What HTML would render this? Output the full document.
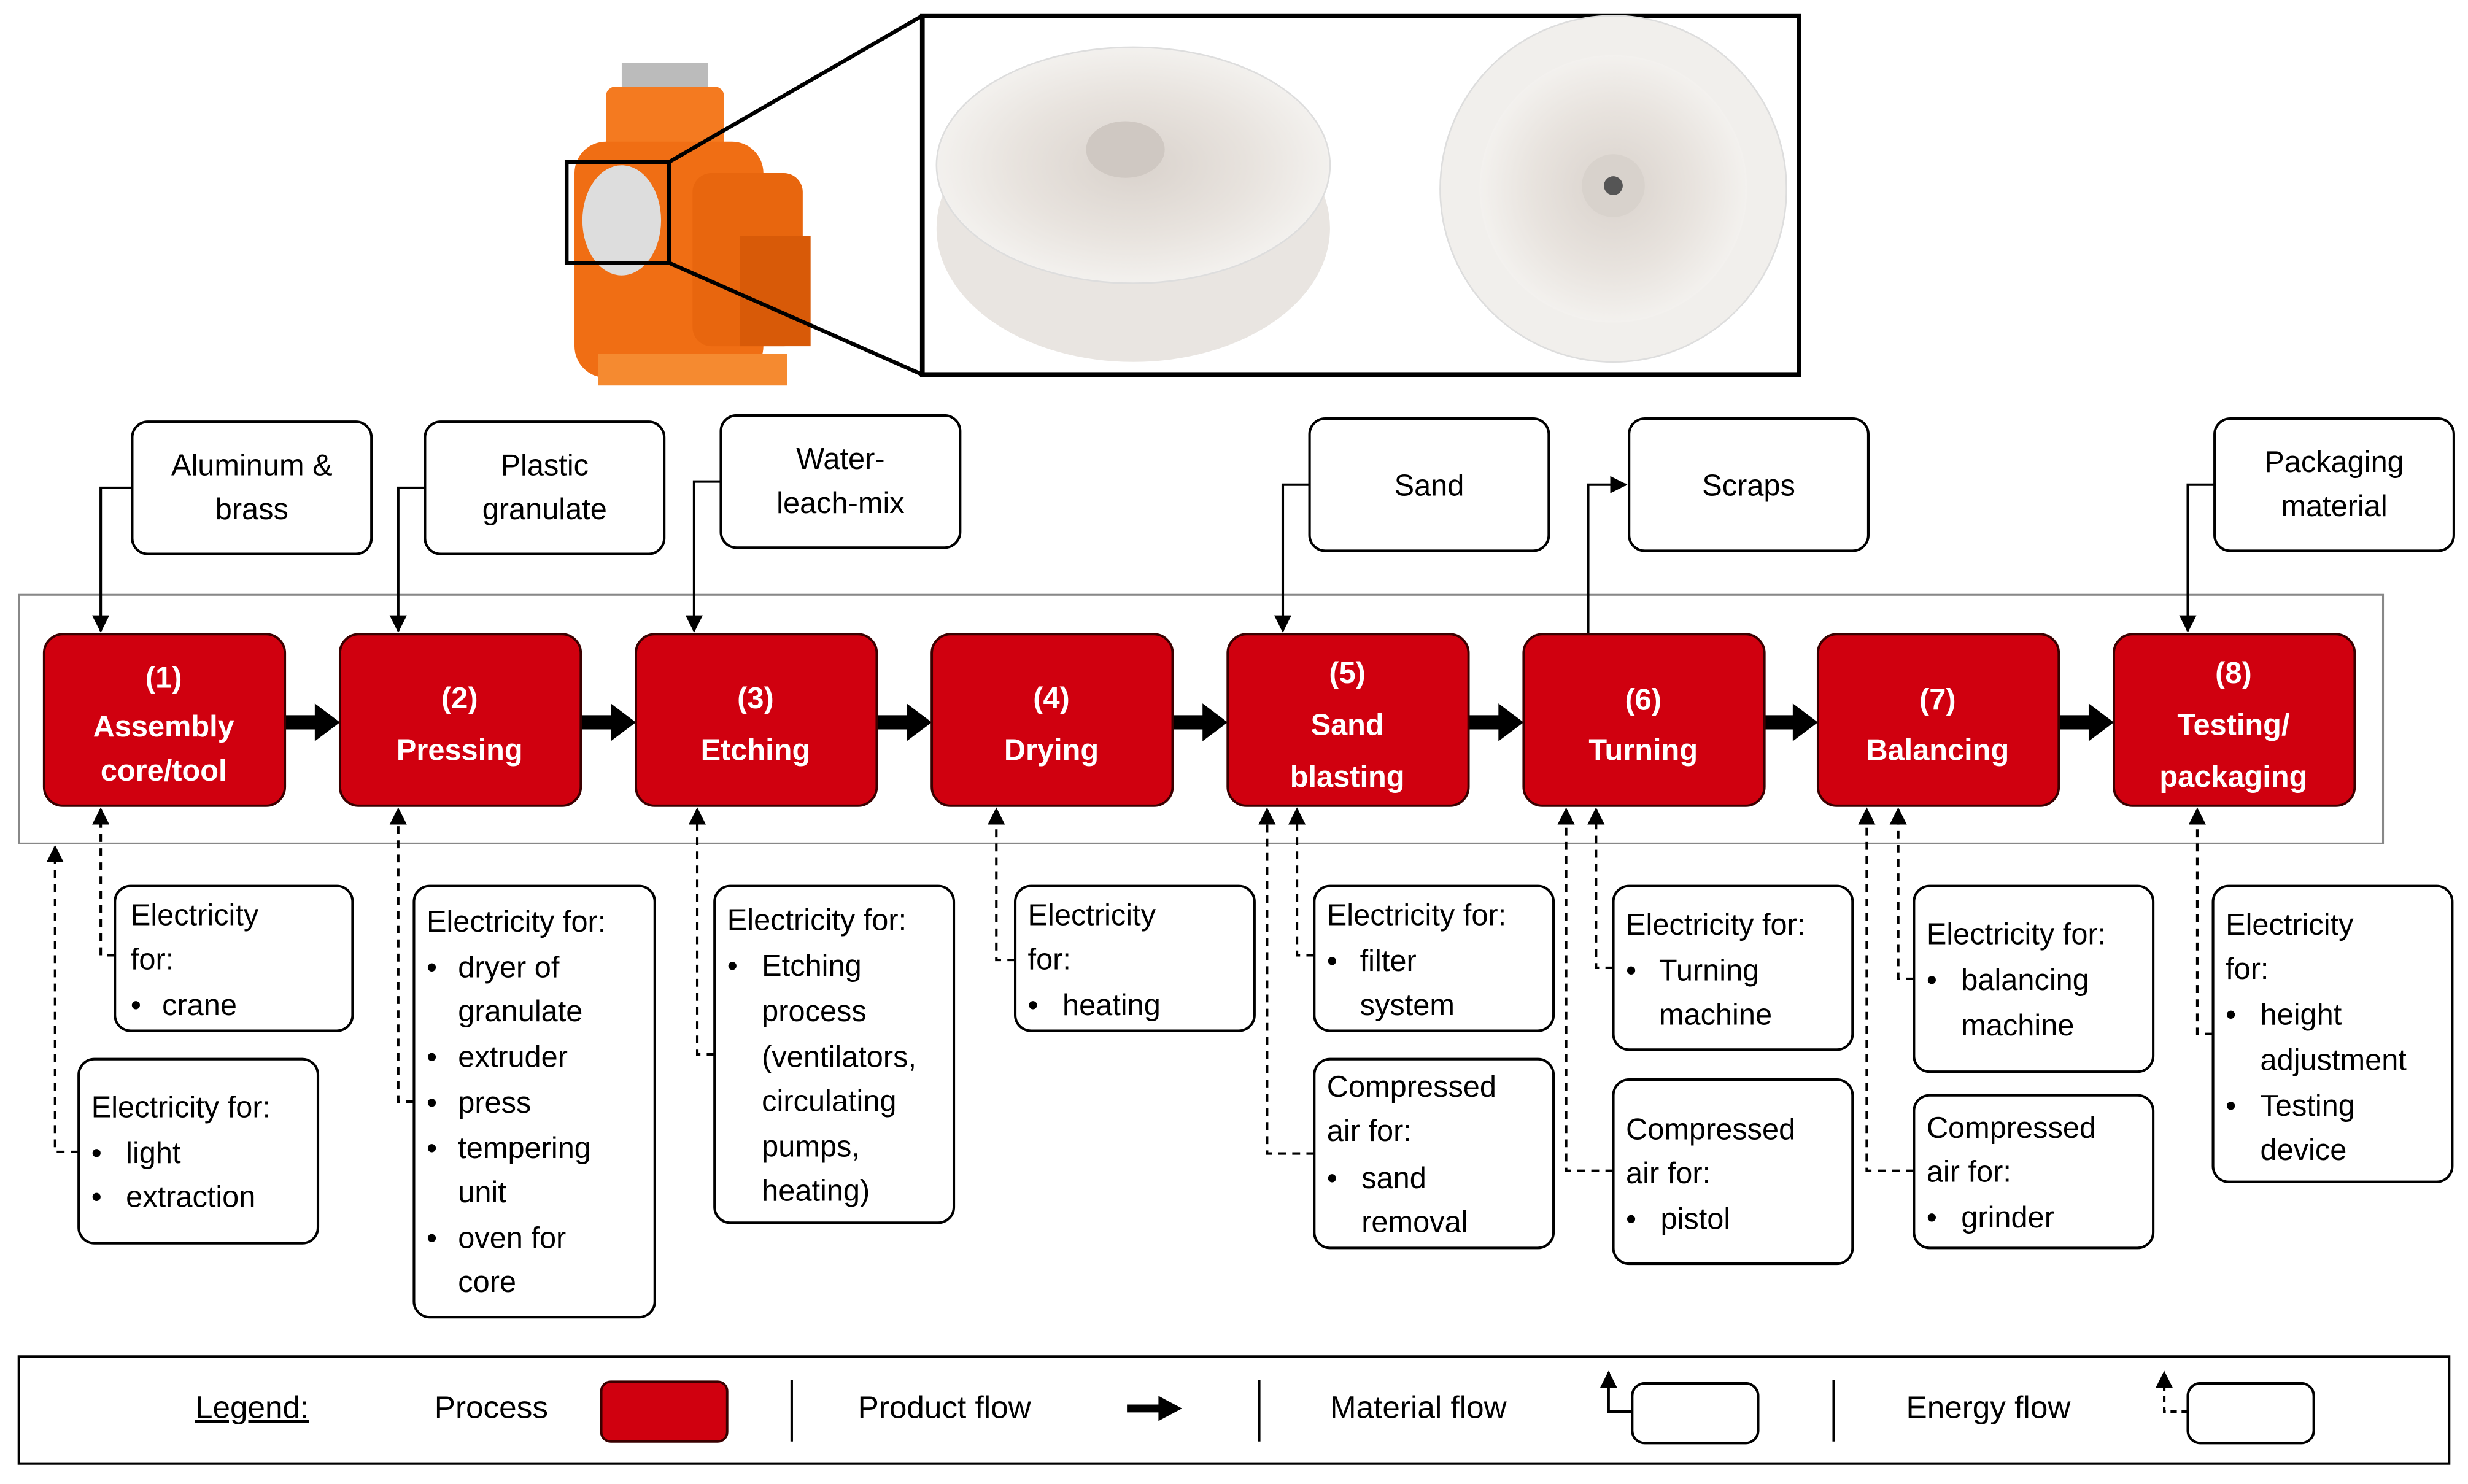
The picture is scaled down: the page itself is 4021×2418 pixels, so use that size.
<!DOCTYPE html>
<html><head><meta charset="utf-8">
<style>
html,body{margin:0;padding:0;background:#fff;}
svg{display:block;}
text{font-family:"Liberation Sans",sans-serif;}
</style></head><body>
<svg width="4021" height="2418" viewBox="0 0 1568 943" preserveAspectRatio="none" xmlns="http://www.w3.org/2000/svg">
<defs>
<marker id="ah" markerWidth="11" markerHeight="11" refX="10" refY="5.5" orient="auto" markerUnits="userSpaceOnUse"><path d="M0,0 L11,5.5 L0,11 z" fill="#000"/></marker>
<radialGradient id="imp" cx="50%" cy="50%" r="50%"><stop offset="0" stop-color="#d9d2cc"/><stop offset="0.6" stop-color="#e8e3de"/><stop offset="1" stop-color="#f3f1ee"/></radialGradient>
</defs>
<rect width="1568" height="943" fill="#fff"/>

<!-- pump -->
<g>
<rect x="395" y="40" width="55" height="18" fill="#bbb"/>
<rect x="385" y="55" width="75" height="40" rx="6" fill="#f47a20"/>
<rect x="365" y="90" width="120" height="150" rx="20" fill="#f06e14"/>
<rect x="440" y="110" width="70" height="110" rx="12" fill="#e8660e"/>
<rect x="470" y="150" width="45" height="70" fill="#d85a08"/>
<ellipse cx="395" cy="140" rx="25" ry="35" fill="#ddd"/>
<rect x="380" y="225" width="120" height="20" fill="#f58a30"/>
<rect x="360" y="103" width="65" height="64" fill="none" stroke="#000" stroke-width="2.5"/>
<line x1="425" y1="103" x2="586" y2="10" stroke="#000" stroke-width="2.5"/>
<line x1="425" y1="167" x2="586" y2="238" stroke="#000" stroke-width="2.5"/>
</g>
<rect x="586" y="10" width="557" height="228" fill="#fff" stroke="#000" stroke-width="3"/>
<ellipse cx="720" cy="145" rx="125" ry="85" fill="#e9e5e1"/>
<ellipse cx="720" cy="105" rx="125" ry="75" fill="url(#imp)" stroke="#ddd"/>
<ellipse cx="715" cy="95" rx="25" ry="18" fill="#cfc8c2"/>
<circle cx="1025" cy="120" r="110" fill="#f1efec" stroke="#ddd"/>
<circle cx="1025" cy="120" r="85" fill="url(#imp)"/>
<circle cx="1025" cy="118" r="20" fill="#d8d2cc"/>
<circle cx="1025" cy="118" r="6" fill="#555"/>

<!-- frame -->
<rect x="12" y="378" width="1502" height="158" fill="none" stroke="#888" stroke-width="1.2"/>

<g fill="none" stroke="#000" stroke-width="1.6">
<polyline points="84,310 64,310 64,401" marker-end="url(#ah)"/>
<polyline points="270,310 253,310 253,401" marker-end="url(#ah)"/>
<polyline points="458,306 441,306 441,401" marker-end="url(#ah)"/>
<polyline points="832,308 815,308 815,401" marker-end="url(#ah)"/>
<polyline points="1009,403 1009,308 1033,308" marker-end="url(#ah)"/>
<polyline points="1407,308 1390,308 1390,401" marker-end="url(#ah)"/>
</g>
<g fill="none" stroke="#000" stroke-width="1.6" stroke-dasharray="5,4">
<polyline points="73,607 64,607 64,514" marker-end="url(#ah)"/>
<polyline points="50,732 35,732 35,538" marker-end="url(#ah)"/>
<polyline points="263,700 253,700 253,514" marker-end="url(#ah)"/>
<polyline points="454,670 443,670 443,514" marker-end="url(#ah)"/>
<polyline points="645,610 633,610 633,514" marker-end="url(#ah)"/>
<polyline points="835,607 824,607 824,514" marker-end="url(#ah)"/>
<polyline points="835,733 805,733 805,514" marker-end="url(#ah)"/>
<polyline points="1025,615 1014,615 1014,514" marker-end="url(#ah)"/>
<polyline points="1025,744 995,744 995,514" marker-end="url(#ah)"/>
<polyline points="1216,622 1206,622 1206,514" marker-end="url(#ah)"/>
<polyline points="1216,744 1186,744 1186,514" marker-end="url(#ah)"/>
<polyline points="1406,657 1396,657 1396,514" marker-end="url(#ah)"/>
</g>

<!-- product arrows -->
<g stroke="#000" stroke-width="9">
<line x1="181" y1="459" x2="203" y2="459"/><line x1="369" y1="459" x2="391" y2="459"/>
<line x1="557" y1="459" x2="579" y2="459"/><line x1="745" y1="459" x2="767" y2="459"/>
<line x1="933" y1="459" x2="955" y2="459"/><line x1="1121" y1="459" x2="1142" y2="459"/>
<line x1="1308" y1="459" x2="1330" y2="459"/>
</g>
<g fill="#000">
<path d="M200,447 L216,459 L200,471z"/><path d="M388,447 L404,459 L388,471z"/>
<path d="M576,447 L592,459 L576,471z"/><path d="M764,447 L780,459 L764,471z"/>
<path d="M952,447 L968,459 L952,471z"/><path d="M1139,447 L1155,459 L1139,471z"/>
<path d="M1327,447 L1343,459 L1327,471z"/>
</g>

<!-- process boxes -->
<g fill="#d0000f" stroke="#3a0000" stroke-width="1.5">
<rect x="28" y="403" width="153" height="109" rx="12"/>
<rect x="216" y="403" width="153" height="109" rx="12"/>
<rect x="404" y="403" width="153" height="109" rx="12"/>
<rect x="592" y="403" width="153" height="109" rx="12"/>
<rect x="780" y="403" width="153" height="109" rx="12"/>
<rect x="968" y="403" width="153" height="109" rx="12"/>
<rect x="1155" y="403" width="153" height="109" rx="12"/>
<rect x="1343" y="403" width="153" height="109" rx="12"/>
</g>
<g fill="#fff" font-weight="bold" font-size="19" text-anchor="middle">
<text x="104" y="437">(1)</text><text x="104" y="468">Assembly</text><text x="104" y="496">core/tool</text>
<text x="292" y="450">(2)</text><text x="292" y="483">Pressing</text>
<text x="480" y="450">(3)</text><text x="480" y="483">Etching</text>
<text x="668" y="450">(4)</text><text x="668" y="483">Drying</text>
<text x="856" y="434">(5)</text><text x="856" y="467">Sand</text><text x="856" y="500">blasting</text>
<text x="1044" y="451">(6)</text><text x="1044" y="483">Turning</text>
<text x="1231" y="451">(7)</text><text x="1231" y="483">Balancing</text>
<text x="1419" y="434">(8)</text><text x="1419" y="467">Testing/</text><text x="1419" y="500">packaging</text>
</g>

<!-- material boxes -->
<g fill="#fff" stroke="#000" stroke-width="1.6">
<rect x="84" y="268" width="152" height="84" rx="10"/>
<rect x="270" y="268" width="152" height="84" rx="10"/>
<rect x="458" y="264" width="152" height="84" rx="10"/>
<rect x="832" y="266" width="152" height="84" rx="10"/>
<rect x="1035" y="266" width="152" height="84" rx="10"/>
<rect x="1407" y="266" width="152" height="84" rx="10"/>
</g>
<g font-size="19" text-anchor="middle" fill="#000">
<text x="160" y="302">Aluminum &amp;</text><text x="160" y="330">brass</text>
<text x="346" y="302">Plastic</text><text x="346" y="330">granulate</text>
<text x="534" y="298">Water-</text><text x="534" y="326">leach-mix</text>
<text x="908" y="315">Sand</text>
<text x="1111" y="315">Scraps</text>
<text x="1483" y="300">Packaging</text><text x="1483" y="328">material</text>
</g>

<!-- energy boxes -->
<g fill="#fff" stroke="#000" stroke-width="1.6">
<rect x="73" y="563" width="151" height="92" rx="10"/>
<rect x="50" y="673" width="152" height="117" rx="10"/>
<rect x="263" y="563" width="153" height="274" rx="10"/>
<rect x="454" y="563" width="152" height="214" rx="10"/>
<rect x="645" y="563" width="152" height="92" rx="10"/>
<rect x="835" y="563" width="152" height="92" rx="10"/>
<rect x="835" y="673" width="152" height="120" rx="10"/>
<rect x="1025" y="563" width="152" height="104" rx="10"/>
<rect x="1025" y="686" width="152" height="117" rx="10"/>
<rect x="1216" y="563" width="152" height="118" rx="10"/>
<rect x="1216" y="696" width="152" height="97" rx="10"/>
<rect x="1406" y="563" width="152" height="188" rx="10"/>
</g>
<g font-size="19" fill="#000">
<text x="83" y="588">Electricity</text><text x="83" y="616">for:</text><text x="83" y="645">•</text><text x="103" y="645">crane</text>
<text x="58" y="710">Electricity for:</text><text x="58" y="739">•</text><text x="80" y="739">light</text><text x="58" y="767">•</text><text x="80" y="767">extraction</text>
<text x="271" y="592">Electricity for:</text>
<text x="271" y="621">•</text><text x="291" y="621">dryer of</text><text x="291" y="649">granulate</text>
<text x="271" y="678">•</text><text x="291" y="678">extruder</text>
<text x="271" y="707">•</text><text x="291" y="707">press</text>
<text x="271" y="736">•</text><text x="291" y="736">tempering</text><text x="291" y="764">unit</text>
<text x="271" y="793">•</text><text x="291" y="793">oven for</text><text x="291" y="821">core</text>
<text x="462" y="591">Electricity for:</text>
<text x="462" y="620">•</text><text x="484" y="620">Etching</text><text x="484" y="649">process</text><text x="484" y="678">(ventilators,</text><text x="484" y="706">circulating</text><text x="484" y="735">pumps,</text><text x="484" y="763">heating)</text>
<text x="653" y="588">Electricity</text><text x="653" y="616">for:</text><text x="653" y="645">•</text><text x="675" y="645">heating</text>
<text x="843" y="588">Electricity for:</text><text x="843" y="617">•</text><text x="864" y="617">filter</text><text x="864" y="645">system</text>
<text x="843" y="697">Compressed</text><text x="843" y="725">air for:</text><text x="843" y="755">•</text><text x="865" y="755">sand</text><text x="865" y="783">removal</text>
<text x="1033" y="594">Electricity for:</text><text x="1033" y="623">•</text><text x="1054" y="623">Turning</text><text x="1054" y="651">machine</text>
<text x="1033" y="724">Compressed</text><text x="1033" y="752">air for:</text><text x="1033" y="781">•</text><text x="1055" y="781">pistol</text>
<text x="1224" y="600">Electricity for:</text><text x="1224" y="629">•</text><text x="1246" y="629">balancing</text><text x="1246" y="658">machine</text>
<text x="1224" y="723">Compressed</text><text x="1224" y="751">air for:</text><text x="1224" y="780">•</text><text x="1246" y="780">grinder</text>
<text x="1414" y="594">Electricity</text><text x="1414" y="622">for:</text>
<text x="1414" y="651">•</text><text x="1436" y="651">height</text><text x="1436" y="680">adjustment</text>
<text x="1414" y="709">•</text><text x="1436" y="709">Testing</text><text x="1436" y="737">device</text>
</g>

<!-- legend -->
<rect x="12" y="862" width="1544" height="68" fill="#fff" stroke="#000" stroke-width="1.6"/>
<g font-size="20" fill="#000">
<text x="124" y="901" text-decoration="underline">Legend:</text>
<text x="276" y="901">Process</text>
<text x="545" y="901">Product flow</text>
<text x="845" y="901">Material flow</text>
<text x="1211" y="901">Energy flow</text>
</g>
<rect x="382" y="878" width="80" height="38" rx="6" fill="#d0000f" stroke="#3a0000" stroke-width="1.5"/>
<g stroke="#000" stroke-width="1.6">
<line x1="503" y1="877" x2="503" y2="916"/><line x1="800" y1="877" x2="800" y2="916"/><line x1="1165" y1="877" x2="1165" y2="916"/>
</g>
<line x1="716" y1="895" x2="738" y2="895" stroke="#000" stroke-width="5"/>
<path d="M736,887 L751,895 L736,903z" fill="#000"/>
<polyline points="1037,897 1022,897 1022,872" fill="none" stroke="#000" stroke-width="1.6" marker-end="url(#ah)"/>
<rect x="1037" y="879" width="80" height="38" rx="8" fill="#fff" stroke="#000" stroke-width="1.6"/>
<polyline points="1390,897 1375,897 1375,872" fill="none" stroke="#000" stroke-width="1.6" stroke-dasharray="4,3" marker-end="url(#ah)"/>
<rect x="1390" y="879" width="80" height="38" rx="8" fill="#fff" stroke="#000" stroke-width="1.6"/>
</svg>
</body></html>
